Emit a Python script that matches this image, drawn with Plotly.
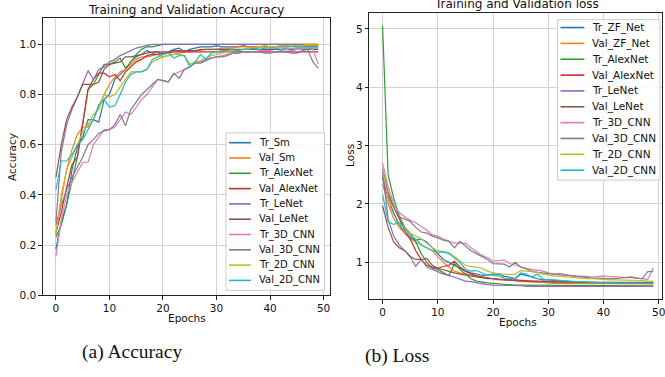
import plotly.graph_objects as go

W, H = 665, 377

epochs = list(range(50))
colors = ["#1f77b4", "#ff7f0e", "#2ca02c", "#d62728", "#9467bd",
          "#8c564b", "#e377c2", "#7f7f7f", "#bcbd22", "#17becf"]

acc_labels = ["Tr_Sm", "Val_Sm", "Tr_AlexNet", "Val_AlexNet", "Tr_LeNet",
              "Val_LeNet", "Tr_3D_CNN", "Val_3D_CNN", "Tr_2D_CNN", "Val_2D_CNN"]
loss_labels = ["Tr_ZF_Net", "Val_ZF_Net", "Tr_AlexNet", "Val_AlexNet", "Tr_LeNet",
               "Val_LeNet", "Tr_3D_CNN", "Val_3D_CNN", "Tr_2D_CNN", "Val_2D_CNN"]

# ---------------- accuracy ----------------
acc_tr_sm = [0.185, 0.29, 0.36, 0.50, 0.59, 0.63, 0.70, 0.70, 0.69, 0.78,
             0.80, 0.86, 0.88, 0.90, 0.93, 0.95, 0.96, 0.975, 0.965, 0.97,
             0.96, 0.97, 0.98, 0.985, 0.97, 0.98, 0.985, 0.99, 0.99, 0.99,
             0.995, 0.99, 0.99, 0.99, 0.99, 0.995, 0.99, 0.99, 0.99, 0.99,
             0.99, 0.99, 0.99, 0.99, 0.995, 0.99, 0.99, 0.99, 0.99, 0.99]
acc_val_sm = [0.24, 0.38, 0.50, 0.58, 0.64, 0.67, 0.67, 0.70, 0.75, 0.80,
              0.84, 0.87, 0.89, 0.90, 0.92, 0.94, 0.95, 0.95, 0.955, 0.96,
              0.95, 0.955, 0.96, 0.965, 0.97, 0.97, 0.975, 0.975, 0.98, 0.98,
              0.98, 0.985, 0.985, 0.985, 0.99, 0.99, 0.99, 0.99, 0.99, 0.995,
              0.99, 0.99, 0.995, 0.995, 0.995, 0.995, 0.995, 0.995, 0.995, 0.995]
acc_tr_alex = [0.23, 0.28, 0.36, 0.45, 0.55, 0.68, 0.82, 0.84, 0.88, 0.92,
               0.92, 0.93, 0.945, 0.905, 0.93, 0.96, 0.98, 0.99, 0.99, 0.995,
               1.0, 1.0, 1.0, 1.0, 1.0, 1.0, 1.0, 1.0, 1.0, 1.0,
               1.0, 1.0, 1.0, 1.0, 1.0, 1.0, 1.0, 1.0, 1.0, 1.0,
               1.0, 1.0, 1.0, 1.0, 1.0, 1.0, 1.0, 1.0, 1.0, 1.0]
acc_val_alex = [0.25, 0.33, 0.43, 0.52, 0.55, 0.68, 0.82, 0.86, 0.885, 0.885,
                0.87, 0.88, 0.855, 0.89, 0.91, 0.93, 0.94, 0.955, 0.96, 0.96,
                0.965, 0.965, 0.97, 0.97, 0.97, 0.97, 0.97, 0.97, 0.97, 0.97,
                0.97, 0.97, 0.97, 0.97, 0.97, 0.97, 0.97, 0.97, 0.97, 0.97,
                0.97, 0.97, 0.97, 0.97, 0.97, 0.97, 0.97, 0.97, 0.97, 0.97]
acc_tr_lenet = [0.29, 0.57, 0.68, 0.74, 0.79, 0.84, 0.895, 0.86, 0.90, 0.91,
                0.93, 0.94, 0.955, 0.965, 0.975, 0.985, 0.99, 0.995, 1.0, 1.0,
                1.0, 1.0, 1.0, 1.0, 1.0, 1.0, 1.0, 1.0, 1.0, 1.0,
                1.0, 1.0, 1.0, 1.0, 1.0, 1.0, 1.0, 1.0, 1.0, 1.0,
                1.0, 1.0, 1.0, 1.0, 1.0, 1.0, 1.0, 1.0, 1.0, 1.0]
acc_val_lenet = [0.47, 0.60, 0.70, 0.75, 0.79, 0.84, 0.84, 0.84, 0.85, 0.90,
                 0.92, 0.925, 0.93, 0.95, 0.95, 0.955, 0.96, 0.965, 0.97, 0.97,
                 0.97, 0.97, 0.975, 0.975, 0.975, 0.975, 0.975, 0.98, 0.98, 0.98,
                 0.98, 0.98, 0.98, 0.98, 0.98, 0.98, 0.98, 0.98, 0.98, 0.98,
                 0.98, 0.98, 0.98, 0.98, 0.98, 0.98, 0.98, 0.98, 0.98, 0.98]
acc_tr_3d = [0.155, 0.30, 0.40, 0.45, 0.49, 0.53, 0.53, 0.60, 0.63, 0.66,
             0.66, 0.67, 0.70, 0.73, 0.72, 0.75, 0.78, 0.80, 0.83, 0.86,
             0.855, 0.85, 0.88, 0.89, 0.90, 0.91, 0.925, 0.93, 0.94, 0.945,
             0.95, 0.955, 0.96, 0.965, 0.965, 0.97, 0.97, 0.97, 0.975, 0.975,
             0.975, 0.97, 0.975, 0.98, 0.975, 0.98, 0.98, 0.985, 0.98, 0.92]
acc_val_3d = [0.28, 0.36, 0.42, 0.47, 0.51, 0.55, 0.60, 0.62, 0.645, 0.655,
              0.66, 0.68, 0.72, 0.675, 0.74, 0.77, 0.80, 0.82, 0.84, 0.86,
              0.855, 0.85, 0.885, 0.865, 0.90, 0.91, 0.925, 0.925, 0.935, 0.945,
              0.95, 0.95, 0.955, 0.965, 0.965, 0.97, 0.97, 0.97, 0.97, 0.965,
              0.965, 0.97, 0.97, 0.97, 0.965, 0.965, 0.975, 0.98, 0.93, 0.905]
acc_tr_2d = [0.24, 0.40, 0.50, 0.55, 0.60, 0.65, 0.68, 0.72, 0.74, 0.80,
             0.79, 0.80, 0.83, 0.86, 0.89, 0.89, 0.89, 0.90, 0.93, 0.94,
             0.95, 0.955, 0.96, 0.96, 0.955, 0.92, 0.93, 0.935, 0.945, 0.955,
             0.96, 0.965, 0.97, 0.975, 0.975, 0.98, 0.985, 0.985, 0.99, 0.99,
             0.99, 0.99, 0.995, 0.995, 0.995, 0.995, 0.995, 1.0, 1.0, 1.0]
acc_val_2d = [0.42, 0.535, 0.535, 0.56, 0.60, 0.62, 0.66, 0.70, 0.76, 0.78,
              0.75, 0.755, 0.80, 0.85, 0.88, 0.89, 0.89, 0.90, 0.94, 0.95,
              0.96, 0.965, 0.945, 0.955, 0.955, 0.91, 0.93, 0.96, 0.94, 0.965,
              0.97, 0.975, 0.975, 0.98, 0.975, 0.98, 0.98, 0.985, 0.98, 0.985,
              0.985, 0.985, 0.98, 0.985, 0.985, 0.985, 0.985, 0.985, 0.985, 0.985]

# ---------------- loss ----------------
loss_tr_zf = [2.45, 2.10, 1.85, 1.65, 1.50, 1.42, 1.38, 1.40, 1.35, 1.25,
              1.15, 1.05, 1.00, 0.95, 0.90, 0.85, 0.82, 0.80, 0.78, 0.78,
              0.80, 0.80, 0.76, 0.75, 0.72, 0.80, 0.78, 0.75, 0.72, 0.70,
              0.70, 0.69, 0.68, 0.68, 0.67, 0.67, 0.66, 0.66, 0.66, 0.65,
              0.65, 0.65, 0.65, 0.65, 0.65, 0.65, 0.65, 0.65, 0.65, 0.65]
loss_val_zf = [2.35, 2.00, 1.75, 1.60, 1.50, 1.40, 1.35, 1.30, 1.25, 1.20,
               1.10, 1.00, 0.92, 0.85, 0.82, 0.80, 0.78, 0.76, 0.75, 0.73,
               0.72, 0.70, 0.70, 0.69, 0.68, 0.68, 0.67, 0.66, 0.66, 0.65,
               0.65, 0.64, 0.64, 0.64, 0.64, 0.63, 0.63, 0.63, 0.63, 0.63,
               0.63, 0.63, 0.63, 0.63, 0.63, 0.63, 0.63, 0.63, 0.63, 0.63]
loss_tr_alex = [5.05, 2.50, 2.10, 1.80, 1.60, 1.50, 1.35, 1.15, 1.00, 0.90,
                0.88, 0.82, 0.77, 0.98, 0.88, 0.80, 0.72, 0.68, 0.66, 0.65,
                0.64, 0.63, 0.62, 0.62, 0.61, 0.61, 0.61, 0.60, 0.60, 0.60,
                0.60, 0.60, 0.60, 0.60, 0.60, 0.60, 0.60, 0.60, 0.60, 0.60,
                0.60, 0.60, 0.60, 0.60, 0.60, 0.60, 0.60, 0.60, 0.60, 0.60]
loss_val_alex = [2.50, 2.15, 1.95, 1.75, 1.55, 1.40, 1.20, 1.05, 0.95, 0.92,
                 0.90, 0.93, 0.95, 1.02, 0.92, 0.85, 0.80, 0.77, 0.75, 0.73,
                 0.72, 0.71, 0.70, 0.70, 0.70, 0.69, 0.68, 0.68, 0.68, 0.67,
                 0.67, 0.67, 0.66, 0.66, 0.66, 0.66, 0.66, 0.65, 0.65, 0.65,
                 0.65, 0.65, 0.65, 0.65, 0.65, 0.65, 0.65, 0.65, 0.65, 0.65]
loss_tr_lenet = [2.55, 1.75, 1.45, 1.30, 1.20, 1.10, 0.93, 1.05, 0.92, 0.88,
                 0.83, 0.80, 0.78, 0.75, 0.72, 0.68, 0.67, 0.65, 0.63, 0.62,
                 0.61, 0.61, 0.60, 0.60, 0.60, 0.60, 0.59, 0.59, 0.59, 0.59,
                 0.59, 0.59, 0.59, 0.59, 0.59, 0.59, 0.59, 0.59, 0.59, 0.59,
                 0.59, 0.59, 0.59, 0.59, 0.59, 0.59, 0.59, 0.59, 0.59, 0.59]
loss_val_lenet = [1.97, 1.60, 1.35, 1.25, 1.20, 1.10, 1.05, 1.05, 1.07, 0.95,
                  0.90, 0.87, 0.85, 0.82, 0.80, 0.78, 0.76, 0.75, 0.74, 0.72,
                  0.72, 0.71, 0.70, 0.70, 0.69, 0.68, 0.68, 0.67, 0.67, 0.67,
                  0.66, 0.66, 0.66, 0.66, 0.66, 0.66, 0.66, 0.66, 0.66, 0.66,
                  0.66, 0.66, 0.66, 0.66, 0.66, 0.66, 0.66, 0.66, 0.66, 0.66]
loss_tr_3d = [2.70, 2.30, 2.00, 1.85, 1.78, 1.72, 1.68, 1.62, 1.55, 1.47,
              1.45, 1.40, 1.37, 1.33, 1.33, 1.33, 1.25, 1.18, 1.12, 1.08,
              1.02, 1.03, 1.04, 0.98, 0.95, 0.93, 0.90, 0.88, 0.87, 0.85,
              0.82, 0.80, 0.81, 0.79, 0.78, 0.77, 0.77, 0.76, 0.75, 0.76,
              0.77, 0.76, 0.75, 0.74, 0.74, 0.74, 0.73, 0.73, 0.71, 0.91]
loss_val_3d = [2.60, 2.20, 1.95, 1.78, 1.74, 1.70, 1.60, 1.52, 1.50, 1.45,
               1.42, 1.38, 1.36, 1.25, 1.36, 1.28, 1.20, 1.15, 1.10, 1.05,
               0.98, 0.98, 0.97, 0.92, 1.00, 0.92, 0.88, 0.85, 0.83, 0.82,
               0.80, 0.79, 0.78, 0.77, 0.76, 0.75, 0.74, 0.73, 0.73, 0.73,
               0.72, 0.72, 0.72, 0.73, 0.74, 0.75, 0.73, 0.72, 0.84, 0.84]
loss_tr_2d = [2.58, 2.10, 1.75, 1.65, 1.60, 1.50, 1.45, 1.40, 1.33, 1.25,
              1.20, 1.18, 1.17, 1.10, 1.02, 0.95, 0.93, 0.92, 0.90, 0.85,
              0.82, 0.81, 0.80, 0.79, 0.80, 0.86, 0.85, 0.84, 0.83, 0.80,
              0.78, 0.77, 0.76, 0.75, 0.75, 0.74, 0.73, 0.72, 0.72, 0.71,
              0.71, 0.70, 0.70, 0.70, 0.70, 0.70, 0.69, 0.69, 0.68, 0.68]
loss_val_2d = [2.16, 1.70, 1.65, 1.68, 1.60, 1.45, 1.40, 1.30, 1.25, 1.20,
               1.17, 1.18, 1.15, 1.08, 1.00, 0.88, 0.85, 0.86, 0.82, 0.78,
               0.78, 0.77, 0.73, 0.72, 0.72, 0.82, 0.80, 0.75, 0.80, 0.72,
               0.70, 0.70, 0.69, 0.68, 0.68, 0.67, 0.67, 0.66, 0.66, 0.65,
               0.65, 0.65, 0.64, 0.64, 0.64, 0.64, 0.64, 0.64, 0.64, 0.64]

acc_series = [acc_tr_sm, acc_val_sm, acc_tr_alex, acc_val_alex, acc_tr_lenet,
              acc_val_lenet, acc_tr_3d, acc_val_3d, acc_tr_2d, acc_val_2d]
loss_series = [loss_tr_zf, loss_val_zf, loss_tr_alex, loss_val_alex, loss_tr_lenet,
               loss_val_lenet, loss_tr_3d, loss_val_3d, loss_tr_2d, loss_val_2d]

acc_ticks = [0.0, 0.2, 0.4, 0.6, 0.8, 1.0]
loss_ticks = [1, 2, 3, 4, 5]
epoch_ticks = [0, 10, 20, 30, 40, 50]


def fx(p):
    return p / W


def fy(p):
    return 1 - p / H


FONT = "DejaVu Sans"
fig = go.Figure()

for name, c, ys in zip(acc_labels, colors, acc_series):
    fig.add_trace(go.Scatter(x=epochs, y=ys, mode="lines", name=name,
                             line=dict(color=c, width=1.2),
                             xaxis="x", yaxis="y", showlegend=False))
for name, c, ys in zip(loss_labels, colors, loss_series):
    fig.add_trace(go.Scatter(x=epochs, y=ys, mode="lines", name=name,
                             line=dict(color=c, width=1.2),
                             xaxis="x2", yaxis="y2", showlegend=False))

axis_common = dict(showline=True, mirror=True, linecolor="#222", linewidth=1,
                   showgrid=True, gridcolor="#d3d3d3", gridwidth=1,
                   ticks="outside", ticklen=3.5, tickcolor="#222", tickwidth=1,
                   zeroline=False,
                   tickfont=dict(family=FONT, size=10.5, color="#111"))

fig.update_layout(
    width=W, height=H,
    margin=dict(l=0, r=0, t=0, b=0),
    paper_bgcolor="white", plot_bgcolor="white",
    xaxis=dict(domain=[fx(43), fx(331)], range=[-2.45, 51.1], anchor="y",
               tickvals=epoch_ticks, **axis_common),
    yaxis=dict(domain=[fy(300), fy(18)], range=[0, 1.106], anchor="x",
               tickvals=acc_ticks, tickformat=".1f", **axis_common),
    xaxis2=dict(domain=[fx(371), 1.0], range=[-2.4, 50.58], anchor="y2",
                tickvals=epoch_ticks, ticklabeloverflow="allow", **axis_common),
    yaxis2=dict(domain=[fy(304), fy(13)], range=[0.37, 5.275], anchor="x2",
                tickvals=loss_ticks, **axis_common),
    showlegend=False,
)

annotations = []
shapes = []


def text(x, y, s, size, family=FONT, angle=0, xanchor="center"):
    annotations.append(dict(x=fx(x), y=fy(y), xref="paper", yref="paper",
                            text=s, showarrow=False, textangle=angle,
                            xanchor=xanchor, yanchor="middle",
                            font=dict(family=family, size=size, color="#111")))


# titles and axis labels
text(187, 10, "Training and Validation Accuracy", 12)
text(519, 4, "Training and Validation loss", 12)
text(187.5, 323, "Epochs", 10.5)
text(520, 327, "Epochs", 10.5)
text(12.5, 159, "Accuracy", 10.5, angle=-90)
text(352, 158, "Loss", 10.5, angle=-90)

# captions
text(133, 358, "(a) Accuracy", 19.5, family="Liberation Serif")
text(398.5, 362, "(b) Loss", 19.5, family="Liberation Serif")


def legend(box, first_y, step, line_x, text_x, labels, size):
    x0, y0, x1, y1 = box
    shapes.append(dict(type="rect", xref="paper", yref="paper",
                       x0=fx(x0), x1=fx(x1), y0=fy(y1), y1=fy(y0),
                       line=dict(color="#cccccc", width=1),
                       fillcolor="rgba(255,255,255,0.85)", layer="above"))
    for i, (lab, c) in enumerate(zip(labels, colors)):
        yy = first_y + i * step
        shapes.append(dict(type="line", xref="paper", yref="paper",
                           x0=fx(line_x[0]), x1=fx(line_x[1]), y0=fy(yy), y1=fy(yy),
                           line=dict(color=c, width=1.6), layer="above"))
        text(text_x, yy, lab, size, xanchor="left")


legend((227, 135, 326, 295), 145, 15.55, (230, 252), 258, acc_labels, 10)
legend((560, 20, 663, 183), 28, 16.1, (563, 587), 593, loss_labels, 10.5)

fig.update_layout(annotations=annotations, shapes=shapes)
fig.write_html("out.html", config={"displayModeBar": False},
               post_script="document.body.style.margin='0';document.body.style.overflow='hidden';")
